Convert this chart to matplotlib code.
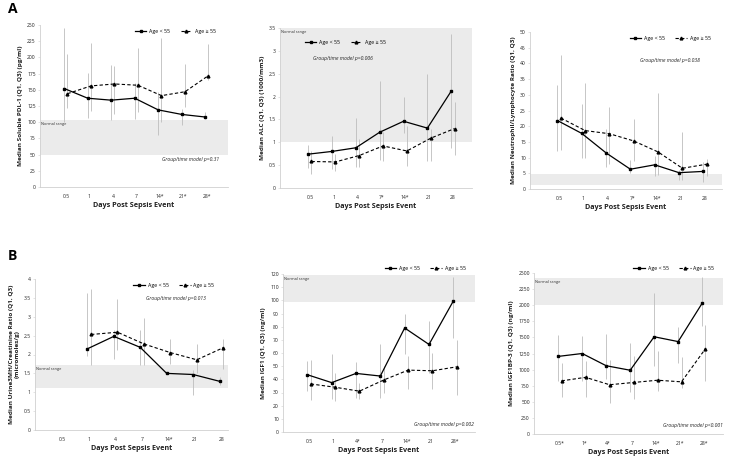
import matplotlib
matplotlib.use("Agg")
import matplotlib.pyplot as plt
import numpy as np

plt.rcParams["font.family"] = ["Open Sans", "DejaVu Sans"]

# ------------------ DATA ------------------

days_a1 = ["0.5", "1", "4", "7", "14*", "21*", "28*"]
pdl_young = [152, 137, 134, 137, 119, 112, 108]
pdl_young_lo = [100, 107, 103, 105, 80, 95, 105]
pdl_young_hi = [245, 176, 189, 161, 147, 121, 115]
pdl_old = [144, 156, 159, 157, 141, 147, 172]
pdl_old_lo = [122, 118, 113, 115, 100, 123, 165]
pdl_old_hi = [205, 222, 186, 214, 230, 190, 220]

days_a2 = ["0.5", "1", "4", "7*", "14*", "21", "28"]
alc_young = [0.74, 0.80, 0.88, 1.22, 1.46, 1.31, 2.12]
alc_young_lo = [0.44, 0.42, 0.45, 0.62, 1.20, 0.60, 0.88]
alc_young_hi = [0.93, 1.13, 1.53, 2.33, 2.00, 2.50, 3.37]
alc_old = [0.58, 0.57, 0.71, 0.92, 0.81, 1.09, 1.30]
alc_old_lo = [0.30, 0.38, 0.45, 0.60, 0.48, 0.60, 0.72]
alc_old_hi = [0.82, 0.75, 1.08, 1.22, 1.35, 1.30, 1.88]

days_a3 = ["0.5", "1", "4", "7*", "14*", "21", "28"]
nlr_young = [21.8, 17.7, 11.5, 6.3, 7.7, 5.2, 5.6]
nlr_young_lo = [12.0, 10.0, 7.0, 5.0, 4.0, 3.0, 2.3]
nlr_young_hi = [33.0, 27.0, 19.0, 9.3, 10.5, 6.0, 8.6]
nlr_old = [22.6, 18.6, 17.6, 15.3, 11.8, 6.6, 7.9]
nlr_old_lo = [12.5, 10.0, 8.0, 9.0, 4.5, 3.0, 4.0]
nlr_old_hi = [42.6, 33.7, 26.0, 22.3, 30.5, 18.1, 9.7]

days_b1 = ["0.5", "1", "4", "7", "14*", "21", "28"]
mh_young = [np.nan, 2.15, 2.48, 2.19, 1.50, 1.47, 1.29]
mh_young_lo = [np.nan, 1.95, 1.87, 1.72, 1.48, 0.93, 1.18]
mh_young_hi = [np.nan, 3.62, 2.65, 2.66, 1.52, 1.60, 1.40]
mh_old = [np.nan, 2.53, 2.59, 2.28, 2.05, 1.86, 2.18]
mh_old_lo = [np.nan, 1.72, 2.13, 1.72, 1.75, 1.50, 1.62]
mh_old_hi = [np.nan, 3.73, 3.46, 2.97, 2.42, 2.27, 2.40]

days_b2 = ["0.5", "1", "4*", "7", "14*", "21", "28*"]
igf_young = [43.5, 37.5, 44.5, 42.5, 79.0, 66.5, 99.5]
igf_young_lo = [31.0, 25.0, 26.0, 26.0, 59.0, 44.5, 71.5]
igf_young_hi = [54.0, 59.5, 53.5, 66.5, 90.0, 84.0, 118.0]
igf_old = [36.5, 34.0, 31.0, 39.5, 47.0, 46.5, 49.5]
igf_old_lo = [24.5, 23.5, 25.0, 30.0, 33.0, 33.0, 28.0]
igf_old_hi = [54.5, 45.0, 37.5, 50.0, 57.5, 60.0, 70.0]

days_b3 = ["0.5*", "1*", "4*", "7", "14*", "21*", "28*"]
bp3_young = [1205, 1250, 1060, 990, 1510, 1435, 2030]
bp3_young_lo = [830, 830, 860, 650, 1050, 1110, 1680]
bp3_young_hi = [1540, 1520, 1560, 1410, 2190, 1665, 2440]
bp3_old = [825, 880, 765, 800, 835, 810, 1325]
bp3_old_lo = [570, 580, 480, 540, 660, 720, 820]
bp3_old_hi = [1100, 1130, 1150, 1210, 1290, 1190, 1690]

# ------------------ CHART ------------------

W, H = 730, 463
fig = plt.figure(figsize=(W / 100, H / 100), dpi=100)

GREY = "#bdbdbd"
SPINE = "#d0d0d0"
BAND = "#ebebeb"


def px_axes(left, top, right, bottom):
    return fig.add_axes([left / W, 1 - bottom / H, (right - left) / W, (bottom - top) / H])


def panel(ax, days, yng, yng_lo, yng_hi, old, old_lo, old_hi, ylim, step,
          band, ylabel, ptext, ppos, xlim, legend_pos, band_label=True):
    x = np.arange(len(days))
    off = 0.07
    ax.axhspan(band[0], band[1], color=BAND, lw=0, zorder=0)
    if band_label:
        ax.text(xlim[0] + 0.05, band[1] - (ylim[1] - ylim[0]) * 0.012, "Normal range",
                fontsize=2.8, va="top", ha="left", color="#333333")

    ax.vlines(x - off, yng_lo, yng_hi, color=GREY, lw=0.6, zorder=1)
    ax.vlines(x + off, old_lo, old_hi, color=GREY, lw=0.6, zorder=1)
    l1, = ax.plot(x - off, yng, "-", color="black", lw=0.9, marker="s", ms=1.8,
                  zorder=3, label="Age < 55")
    l2, = ax.plot(x + off, old, "--", color="black", lw=0.8, marker="^", ms=2.0,
                  dashes=(3, 2), zorder=3, label="Age \u2265 55")

    ax.set_xlim(*xlim)
    ax.set_ylim(*ylim)
    ax.set_xticks(x)
    ax.set_xticklabels(days)
    ticks = np.arange(ylim[0], ylim[1] + step / 2, step)
    ax.set_yticks(ticks)
    ax.set_yticklabels([f"{t:g}" for t in ticks])
    ax.tick_params(axis="both", labelsize=3.6, length=1.5, width=0.4, color=SPINE,
                   pad=1.5, labelcolor="#222222")
    ax.tick_params(axis="x", length=0, pad=5)
    for s in ["top", "right"]:
        ax.spines[s].set_visible(False)
    for s in ["left", "bottom"]:
        ax.spines[s].set_color(SPINE)
        ax.spines[s].set_linewidth(0.6)
    ax.set_facecolor("none")

    ax.set_ylabel(ylabel, fontsize=4.6, fontweight="bold", labelpad=3, color="#222222")
    ax.set_xlabel("Days Post Sepsis Event", fontsize=5.2, fontweight="bold",
                  labelpad=2, color="#222222")
    ax.text(ppos[0], ppos[1], ptext, transform=ax.transAxes, fontsize=3.6,
            style="italic", ha="center", va="center", color="#222222")

    ax.legend(handles=[l1, l2], loc="center", bbox_to_anchor=legend_pos,
              ncol=2, frameon=False, fontsize=3.8, handlelength=2.2,
              columnspacing=2.0, handletextpad=0.5, borderaxespad=0)


ax1 = px_axes(40, 25, 228, 187)
panel(ax1, days_a1, pdl_young, pdl_young_lo, pdl_young_hi, pdl_old, pdl_old_lo,
      pdl_old_hi, (0, 250), 25, (50, 103),
      "Median Soluble PDL-1 (Q1, Q3) (pg/ml)", "Group/time model p=0.31",
      (0.80, 0.17), (-1.1, 6.9), (0.72, 0.96))

ax2 = px_axes(280, 28, 472, 188)
panel(ax2, days_a2, alc_young, alc_young_lo, alc_young_hi, alc_old, alc_old_lo,
      alc_old_hi, (0, 3.5), 0.5, (1.0, 3.5),
      "Median ALC (Q1, Q3) (1000/mm3)", "Group/time model p=0.006",
      (0.33, 0.81), (-1.25, 6.8), (0.34, 0.91))

ax3 = px_axes(530, 32, 722, 189)
panel(ax3, days_a3, nlr_young, nlr_young_lo, nlr_young_hi, nlr_old, nlr_old_lo,
      nlr_old_hi, (0, 50), 5, (1.2, 4.7),
      "Median Neutrophil/Lymphocyte Ratio (Q1, Q3)", "Group/time model p=0.038",
      (0.73, 0.82), (-1.2, 6.7), (0.73, 0.96), band_label=False)

ax4 = px_axes(35, 279, 228, 430)
panel(ax4, days_b1, mh_young, mh_young_lo, mh_young_hi, mh_old, mh_old_lo,
      mh_old_hi, (0, 4), 0.5, (1.12, 1.72),
      "Median Urine3MH/Creatinine Ratio (Q1, Q3)\n(micromoles/g)",
      "Group/time model p=0.013", (0.73, 0.87), (-1.05, 6.25), (0.72, 0.96))

ax5 = px_axes(283, 274, 475, 432)
panel(ax5, days_b2, igf_young, igf_young_lo, igf_young_hi, igf_old, igf_old_lo,
      igf_old_hi, (0, 120), 10, (99, 119),
      "Median IGF1 (Q1, Q3) (ng/ml)", "Group/time model p=0.002",
      (0.84, 0.05), (-1.07, 6.82), (0.74, 1.035))

ax6 = px_axes(534, 273, 723, 434)
panel(ax6, days_b3, bp3_young, bp3_young_lo, bp3_young_hi, bp3_old, bp3_old_lo,
      bp3_old_hi, (0, 2500), 250, (2000, 2420),
      "Median IGF1BP-3 (Q1, Q3) (ng/ml)", "Group/time model p<0.001",
      (0.84, 0.05), (-1.08, 6.8), (0.74, 1.03))

fig.text(8 / W, 1 - 9 / H, "A", fontsize=10, fontweight="bold", va="center")
fig.text(8 / W, 1 - 256 / H, "B", fontsize=10, fontweight="bold", va="center")

fig.savefig("out.png", dpi=100)
plt.close(fig)
